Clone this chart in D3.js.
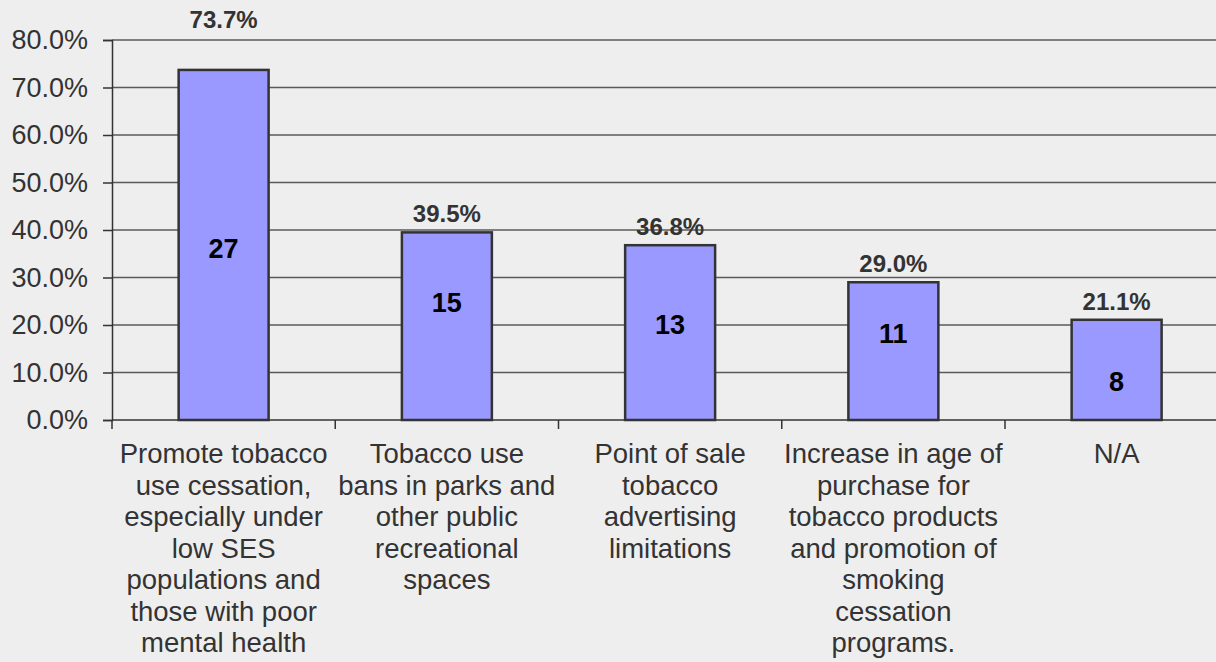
<!DOCTYPE html>
<html>
<head>
<meta charset="utf-8">
<script src="https://cdn.jsdelivr.net/npm/d3@7"></script>
<style>
  html, body { margin: 0; padding: 0; background: #eeeeee; }
  svg { display: block; font-family: "Liberation Sans", Arial, sans-serif; }
</style>
</head>
<body>
<svg id="chart"></svg>
<script>
// categories (one entry per line of the wrapped axis label)
const categories = [
  ["Promote tobacco", "use cessation,", "especially under", "low SES", "populations and", "those with poor", "mental health"],
  ["Tobacco use", "bans in parks and", "other public", "recreational", "spaces"],
  ["Point of sale", "tobacco", "advertising", "limitations"],
  ["Increase in age of", "purchase for", "tobacco products", "and promotion of", "smoking", "cessation", "programs."],
  ["N/A"]
];
const percents = [73.7, 39.5, 36.8, 29.0, 21.1];
const counts = [27, 15, 13, 11, 8];
// where the count labels sit inside the bars (in % units)
const countLabelAt = [34.1, 22.8, 18.2, 16.3, 6.1];
const yTicks = [0, 10, 20, 30, 40, 50, 60, 70, 80];

const W = 1216, H = 662;
const svg = d3.select("#chart").attr("width", W).attr("height", H);

const x0 = 112, y0 = 420, yTop = 40;
const x = d3.scaleBand()
  .domain(d3.range(percents.length))
  .range([x0, x0 + 5 * 223.25])
  .padding(0);
const y = d3.scaleLinear().domain([0, 80]).range([y0, yTop]);

const barW = x.bandwidth() * 0.403;

// gridlines
svg.append("g")
  .selectAll("line")
  .data(yTicks.filter(d => d > 0))
  .join("line")
  .attr("x1", x0).attr("x2", W)
  .attr("y1", d => y(d)).attr("y2", d => y(d))
  .attr("stroke", "#5a5a5a")
  .attr("stroke-width", 1.5);

// y axis
const yAxis = svg.append("g")
  .attr("transform", "translate(" + x0 + ",0)")
  .call(d3.axisLeft(y).tickValues(yTicks).tickSize(9).tickFormat(d => d.toFixed(1) + "%"));
yAxis.select(".domain").attr("stroke", "#333").attr("stroke-width", 1.5);
yAxis.selectAll(".tick line").attr("stroke", "#333").attr("stroke-width", 1.5);
yAxis.selectAll(".tick text")
  .attr("x", -24)
  .attr("font-size", 27)
  .attr("font-family", "Liberation Sans, Arial, sans-serif")
  .attr("fill", "#333");

// x axis line + ticks at band boundaries
svg.append("line")
  .attr("x1", x0).attr("x2", W)
  .attr("y1", y0).attr("y2", y0)
  .attr("stroke", "#333").attr("stroke-width", 1.5);
svg.append("g")
  .selectAll("line")
  .data(d3.range(percents.length))
  .join("line")
  .attr("x1", d => x(d)).attr("x2", d => x(d))
  .attr("y1", y0).attr("y2", y0 + 9)
  .attr("stroke", "#333").attr("stroke-width", 1.5);

// bars
svg.append("g")
  .selectAll("rect")
  .data(percents)
  .join("rect")
  .attr("x", (d, i) => x(i) + (x.bandwidth() - barW) / 2)
  .attr("width", barW)
  .attr("y", d => y(d))
  .attr("height", d => y0 - y(d))
  .attr("fill", "#9999ff")
  .attr("stroke", "#333")
  .attr("stroke-width", 2.5);

// percent labels above bars (the tallest one is lifted above the frame)
svg.append("g")
  .selectAll("text")
  .data(percents)
  .join("text")
  .attr("x", (d, i) => x(i) + x.bandwidth() / 2)
  .attr("y", d => d > 70 ? y(80) - 12 : y(d) - 10)
  .attr("text-anchor", "middle")
  .attr("font-size", 24)
  .attr("font-weight", "bold")
  .attr("fill", "#333")
  .text(d => d.toFixed(1) + "%");

// counts inside bars
svg.append("g")
  .selectAll("text")
  .data(counts)
  .join("text")
  .attr("x", (d, i) => x(i) + x.bandwidth() / 2)
  .attr("y", (d, i) => y(countLabelAt[i]))
  .attr("text-anchor", "middle")
  .attr("font-size", 27)
  .attr("font-weight", "bold")
  .attr("fill", "#000")
  .text(d => d);

// category labels
const cat = svg.append("g")
  .selectAll("text")
  .data(categories)
  .join("text")
  .attr("x", (d, i) => x(i) + x.bandwidth() / 2)
  .attr("y", y0 + 43)
  .attr("text-anchor", "middle")
  .attr("font-size", 27.5)
  .attr("fill", "#333");
cat.selectAll("tspan")
  .data(d => d)
  .join("tspan")
  .attr("x", function () { return d3.select(this.parentNode).attr("x"); })
  .attr("dy", (d, i) => i === 0 ? 0 : 31.5)
  .text(d => d);
</script>
</body>
</html>
